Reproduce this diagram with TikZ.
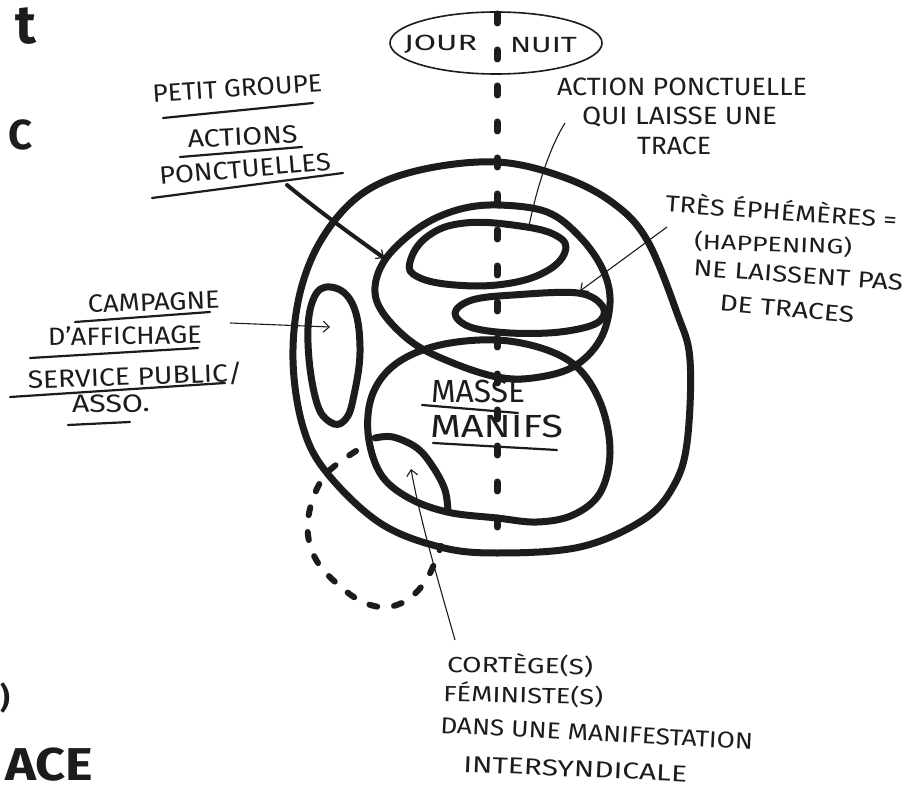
\documentclass[tikz,border=0pt]{standalone}
\usepackage{fontspec}
\setmainfont{Fira Sans}
\usetikzlibrary{arrows.meta}
\newcommand\lab[3][25]{\resizebox{#2}{\height}{\fontsize{#1}{#1}\selectfont #3}}
\definecolor{inkc}{HTML}{1C1C1C}
\begin{document}
\begin{tikzpicture}[x=1pt,y=-1pt,
  ink/.style={draw=inkc, line width=7pt, line cap=round, line join=round},
  thinline/.style={draw=inkc, line width=1.1pt},
  ul/.style={draw=inkc, line width=2.2pt, line cap=round},
  lbl/.style={text=inkc, inner sep=0pt, outer sep=0pt},
  bigl/.style={text=inkc, inner sep=0pt, outer sep=0pt, font=\bfseries},
  tipb/.style={-{Straight Barb[length=6pt,width=11pt,line width=1.1pt]}}
]
\path[use as bounding box, fill=white] (0,0) rectangle (905,791);

% cut-off letters on the left edge
\node[bigl, anchor=base east] (fragt) at (36,44) {\fontsize{54}{54}\selectfont t};
\node[bigl, anchor=base east] (fragc) at (33,150) {\fontsize{42}{42}\selectfont C};
\node[bigl, anchor=base west] (fragd) at (0,708) {\fontsize{30}{30}\selectfont )};
\node[bigl, anchor=base west] (frage) at (5,780) {\resizebox{88pt}{\height}{\fontsize{46}{46}\selectfont ACE}};

% JOUR / NUIT oval
\draw[thinline, line width=1.6pt] (496,43) ellipse [x radius=106, y radius=31];
\node[lbl, anchor=base west] (jour) at (404,51) {\lab[22]{73pt}{JOUR}};
\node[lbl, anchor=base west] (nuit) at (510,53) {\lab[22]{67pt}{NUIT}};

% vertical dashed divider
\draw[draw=inkc, line width=7pt, line cap=round, dash pattern=on 9pt off 27pt] (497,14) -- (497,552);

% outer big circle
\draw[ink] plot[smooth cycle, tension=0.6] coordinates {
 (497,162) (563,177) (613,203) (647,240) (677,313) (690,360) (687,443)
 (673,487) (643,520) (580,547) (497,553) (440,547) (380,523) (327,473)
 (303,427) (293,360) (300,293) (323,237) (363,193) (420,170)};

% upper loop (actions ponctuelles)
\draw[ink] plot[smooth cycle, tension=0.6] coordinates {
 (497,205) (547,212) (580,237) (603,270) (610,303) (600,340) (573,367)
 (533,378) (497,377) (453,363) (413,343) (383,313) (375,287) (387,257)
 (420,227) (457,210)};

% top ellipse (action qui laisse une trace)
\draw[ink] plot[smooth cycle, tension=0.7] coordinates {
 (410,262) (428,236) (465,223) (520,226) (557,236) (565,252) (545,272)
 (505,284) (455,285) (418,277)};

% second ellipse (tres ephemeres)
\draw[ink] plot[smooth cycle, tension=0.6] coordinates {
 (455,313) (472,300) (513,295) (578,293) (603,307) (597,323) (560,332)
 (510,333) (470,327)};

% lower loop (masse manifs)
\draw[ink] plot[smooth cycle, tension=0.6] coordinates {
 (497,340) (547,350) (580,370) (602,407) (610,453) (600,493) (573,515)
 (537,522) (497,518) (447,512) (407,497) (380,473) (368,433) (373,393)
 (397,363) (440,345)};

% small half-moon (cortege)
\draw[ink] plot[smooth, tension=0.6] coordinates {
 (375,438) (393,437) (417,448) (433,467) (445,490) (448,512)};

% left ellipse (campagne d'affichage)
\draw[ink] plot[smooth cycle, tension=0.7] coordinates {
 (330,287) (352,303) (360,347) (354,395) (345,420) (330,422) (316,400)
 (308,343) (313,300)};

% dashed circle bottom left
\draw[draw=inkc, line width=6pt, line cap=round, dash pattern=on 8pt off 17pt]
 plot[smooth, tension=0.6] coordinates {
 (356,451) (326,474) (311,505) (308,535) (318,563) (342,588) (365,603)
 (388,607) (410,598) (428,577) (441,546)};

% ---------- labels ----------
\node[lbl, anchor=base west, rotate=4] (petit) at (153,103) {\lab{170pt}{PETIT GROUPE}};
\draw[ul] (163,118) -- (313,103);
\node[lbl, anchor=base west, rotate=3] (actions) at (188,148) {\lab{110pt}{ACTIONS}};
\draw[ul] (180,157) -- (302,147);
\node[lbl, anchor=base west, rotate=5] (ponct) at (160,185) {\lab{172pt}{PONCTUELLES}};
\draw[ul] (152,198) -- (343,173);

\node[lbl, anchor=base west] (apq) at (557,96) {\lab{250pt}{ACTION PONCTUELLE}};
\node[lbl, anchor=base west] (qui) at (582,125) {\lab{195pt}{QUI LAISSE UNE}};
\node[lbl, anchor=base west] (trace) at (637,155) {\lab{74pt}{TRACE}};

\node[lbl, anchor=base west, rotate=-4] (tres) at (665,212) {\lab[23]{232pt}{TRÈS ÉPHÉMÈRES =}};
\node[lbl, anchor=base west, rotate=-2] (happ) at (694,249) {\lab[21]{158pt}{(HAPPENING)}};
\node[lbl, anchor=base west, rotate=-4] (nelaiss) at (693,276) {\lab[23]{210pt}{NE LAISSENT PAS}};
\node[lbl, anchor=base west, rotate=-5] (detr) at (719,311) {\lab[23]{135pt}{DE TRACES}};

\node[lbl, anchor=base west, rotate=2] (camp) at (88,313) {\lab{132pt}{CAMPAGNE}};
\draw[ul] (75,322) -- (210,312);
\node[lbl, anchor=base west, rotate=1] (affi) at (48,346) {\lab{154pt}{D'AFFICHAGE}};
\draw[ul] (30,358) -- (198,348);
\node[lbl, anchor=base west, rotate=2] (serv) at (28,389) {\lab{215pt}{SERVICE PUBLIC/}};
\draw[ul] (10,397) -- (225,383);
\node[lbl, anchor=base west, rotate=1] (asso) at (72,413) {\lab{78pt}{ASSO.}};
\draw[ul] (68,425) -- (130,422);

\node[lbl, anchor=base west] (masse) at (431,403) {\lab[32]{94pt}{MASSE}};
\draw[ul] (422,405) -- (518,413);
\node[lbl, anchor=base west] (manifs) at (430,438) {\lab[32]{133pt}{MANIFS}};
\draw[ul] (433,443) -- (557,450);

\node[lbl, anchor=base west, rotate=-1] (cort) at (447,672) {\lab[22]{146pt}{CORTÈGE(S)}};
\node[lbl, anchor=base west, rotate=-1.5] (femi) at (443,701) {\lab[22]{160pt}{FÉMINISTE(S)}};
\node[lbl, anchor=base west, rotate=-3] (dans) at (440,733) {\lab[23]{313pt}{DANS UNE MANIFESTATION}};
\node[lbl, anchor=base west, rotate=-2.5] (inter) at (463,772) {\lab[23]{224pt}{INTERSYNDICALE}};

% ---------- connectors ----------
\coordinate (pgS) at (287,185);
\coordinate (pgE) at (384,258);
\draw[draw=inkc, line width=4pt, line cap=round, -{Straight Barb[length=6pt,width=11pt,line width=1.2pt]}]
  (pgS) .. controls (320,212) and (352,235) .. (pgE);

\coordinate (apS) at (565,123);
\coordinate (apE) at (528,231);
\draw[thinline, tipb] (apS) .. controls (548,150) and (535,195) .. (apE);

\coordinate (teS) at (667,227);
\coordinate (teE) at (580,291);
\draw[thinline, tipb] (teS) -- (teE);

\coordinate (caS) at (230,323);
\coordinate (caE) at (330,327);
\draw[thinline, tipb] (caS) -- (caE);

\coordinate (coS) at (455,640);
\coordinate (coE) at (411,469);
\draw[thinline, tipb] (coS) .. controls (438,580) and (420,520) .. (coE);
\end{tikzpicture}
\end{document}
